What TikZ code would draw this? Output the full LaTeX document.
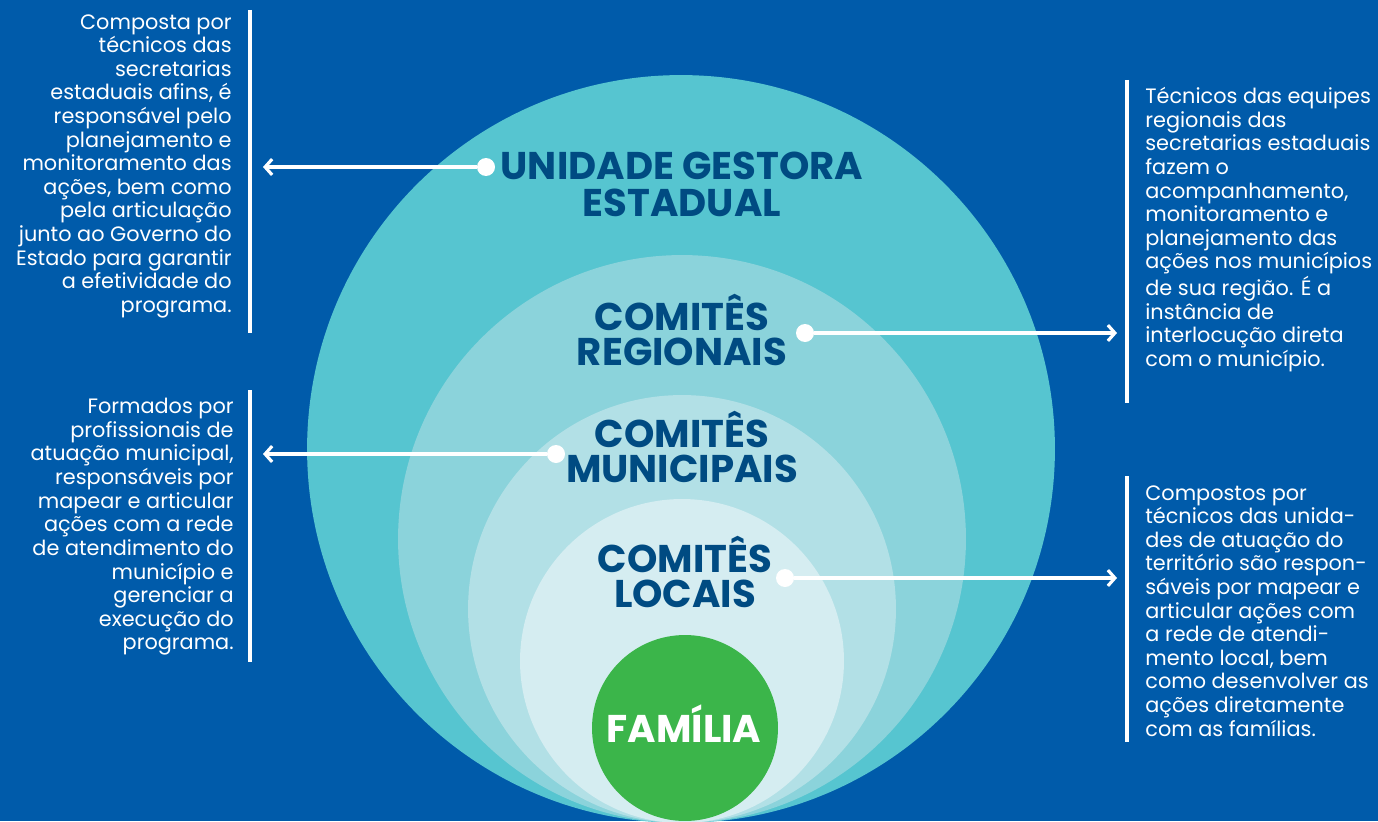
\documentclass[tikz,border=0pt]{standalone}
\usepackage{fontspec}
\setmainfont{Poppins}
\usetikzlibrary{arrows.meta}

\definecolor{bgblue}{HTML}{005BAA}
\definecolor{ringone}{HTML}{56C5D0}
\definecolor{ringtwo}{HTML}{8BD3DB}
\definecolor{ringthree}{HTML}{B2E0E6}
\definecolor{ringfour}{HTML}{D5EDF1}
\definecolor{famgreen}{HTML}{3BB54A}
\definecolor{titleblue}{HTML}{004B82}

\begin{document}
\begin{tikzpicture}[x=0.02cm,y=-0.02cm,
    level/.style={font=\bfseries\fontsize{22}{19.8}\selectfont, text=titleblue,
      align=center, inner sep=0pt, anchor=south},
    info/.style={font=\fontsize{11.85}{13.44}\selectfont, text=white, inner sep=0pt},
    dot/.style={circle, fill=white, inner sep=0pt, minimum size=0.36cm},
    link/.style={white, line width=1.8pt, -{Straight Barb[length=4pt,width=9pt]}},
    bar/.style={white, line width=2.2pt}]

    \useasboundingbox (0,0) rectangle (1378,821);
    \clip (0,0) rectangle (1378,821);
    \fill[bgblue] (0,0) rectangle (1378,821);

    % nested rings
    \fill[ringone] (681,449) circle (7.48cm);
    \fill[ringtwo] (682,539) circle (5.68cm);
    \fill[ringthree] (682,609) circle (4.28cm);
    \fill[ringfour] (682,661) circle (3.24cm);
    \fill[famgreen] (685,728) circle (1.86cm);

    % ring names
    \node[level, font=\bfseries\fontsize{22}{21}\selectfont] (ugs) at (682,217)
      {UNIDADE GESTORA\\ESTADUAL};
    \node[level] (reg) at (682,366) {COMITÊS\\REGIONAIS};
    \node[level] (mun) at (682,483) {COMITÊS\\MUNICIPAIS};
    \node[level] (loc) at (685,608) {COMITÊS\\LOCAIS};
    \node[level, text=white] (fam) at (684,743) {FAMÍLIA};

    % side bars
    \draw[bar] (250,10) -- (250,333);
    \draw[bar] (1127,80) -- (1127,403);
    \draw[bar] (250,390) -- (250,662);
    \draw[bar] (1127,476) -- (1127,742);

    % descriptions
    \node[info, anchor=north east, align=right] (txtugs) at (232,14)
      {Composta por\\técnicos das\\secretarias\\estaduais afins, é\\responsável pelo\\planejamento e\\monitoramento das\\ações, bem como\\pela articulação\\junto ao Governo do\\Estado para garantir\\a efetividade do\\programa.};
    \node[info, anchor=north west, align=left] (txtreg) at (1145,87)
      {Técnicos das equipes\\regionais das\\secretarias estaduais\\fazem o\\acompanhamento,\\monitoramento e\\planejamento das\\ações nos municípios\\de sua região. É a\\instância de\\interlocução direta\\com o município.};
    \node[info, anchor=north east, align=right] (txtmun) at (234,398)
      {Formados por\\profissionais de\\atuação municipal,\\responsáveis por\\mapear e articular\\ações com a rede\\de atendimento do\\município e\\gerenciar a\\execução do\\programa.};
    \node[info, anchor=north west, align=left] (txtloc) at (1145,485)
      {Compostos por\\técnicos das unida-\\des de atuação do\\território são respon-\\sáveis por mapear e\\articular ações com\\a rede de atendi-\\mento local, bem\\como desenvolver as\\ações diretamente\\com as famílias.};

    % dots and arrows
    \node[dot] (d1) at (486,167) {};
    \node[dot] (d2) at (805,333) {};
    \node[dot] (d3) at (556,454) {};
    \node[dot] (d4) at (785,578) {};
    \coordinate (t1) at (263,167);
    \coordinate (t2) at (1117,333);
    \coordinate (t3) at (263,454);
    \coordinate (t4) at (1117,578);

    \draw[link] (d1) -- (t1);
    \draw[link] (d2) -- (t2);
    \draw[link] (d3) -- (t3);
    \draw[link] (d4) -- (t4);

  \end{tikzpicture}
\end{document}
